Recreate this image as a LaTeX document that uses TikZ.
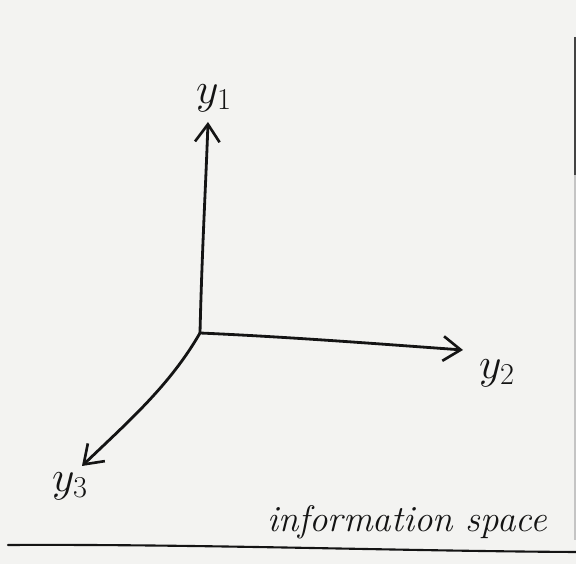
\documentclass[tikz,border=0pt]{standalone}
\usepackage{xcolor}
\usepackage{tikz}
\usetikzlibrary{arrows.meta, positioning, calc}
\definecolor{paper}{RGB}{243,243,241}
\definecolor{ink}{RGB}{20,20,20}
\tikzset{
    axis/.style={-{Straight Barb[length=10pt, width=14pt, line width=1.5pt]},
                 line width=1.6pt, color=ink, line cap=round},
    axislabel/.style={text=ink, font=\fontsize{26}{30}\selectfont},
    caption/.style={text=ink, font=\itshape\fontsize{21}{25}\selectfont},
    edge/.style={line width=1.2pt, color=ink, line cap=round}
}

\begin{document}
\begin{tikzpicture}[x=0.02cm, y=-0.02cm]
    % paper
    \fill[paper] (0,0) rectangle (576,564);
    \useasboundingbox (0,0) rectangle (576,564);

    \coordinate (orig) at (200,333);
    \coordinate (tip1) at (208,122);
    \coordinate (tip2) at (463,350);
    \coordinate (tip3) at (82,466);

    \node[axislabel] (lab1) at (214,98) {$y_1$};
    \node[axislabel] (lab2) at (497,373) {$y_2$};
    \node[axislabel] (lab3) at (70,486) {$y_3$};
    \node[caption] (info) at (407,522) {information space};

    \draw[axis] (orig) .. controls (202,250) and (206,180) .. (tip1);
    \draw[axis] (orig) .. controls (290,337) and (380,344) .. (tip2);
    \draw[axis] (orig) .. controls (170,385) and (130,420) .. (tip3);

    % page edges
    \coordinate (base0) at (8,545);
    \coordinate (base1) at (576,552);
    \draw[edge] (base0) .. controls (200,544) and (400,551) .. (base1);
    \draw[line width=1.4pt, color=ink!80] (575,37) -- (575,175);
    \draw[line width=0.8pt, color=ink!25] (575,175) -- (575,540);
\end{tikzpicture}
\end{document}
